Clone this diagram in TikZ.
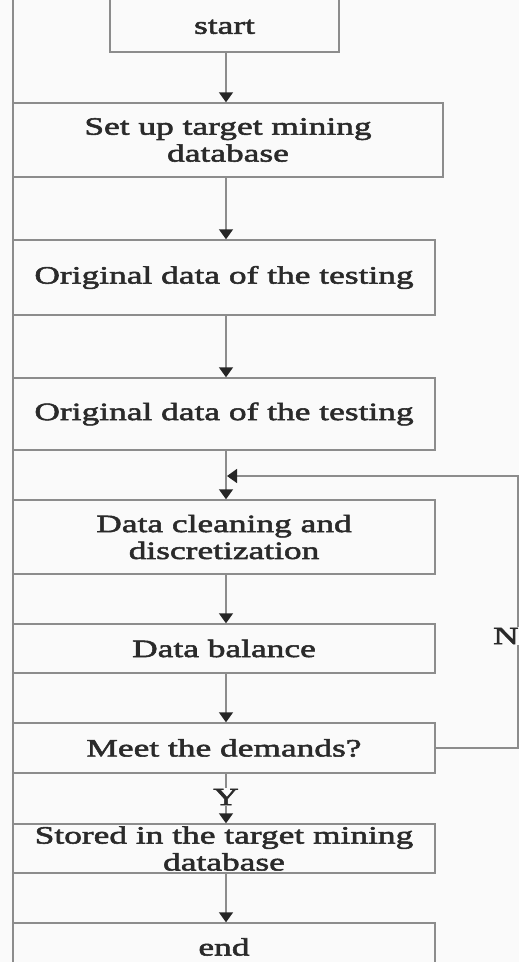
\documentclass[tikz,border=0pt]{standalone}
\usepackage{fontspec}
\setmainfont{Liberation Serif}[FakeStretch=1.42,FakeBold=2.2]
\usetikzlibrary{arrows.meta}
\definecolor{bg}{HTML}{FAFAFA}
\definecolor{ln}{HTML}{8C8C8C}
\definecolor{tx}{HTML}{2A2A2A}
\tikzset{
  box/.style={draw=ln, line width=1.4bp, inner sep=0pt, align=center, text=tx,
              font=\fontsize{25}{27}\selectfont},
  tipd/.tip={Triangle[width=14bp,length=10bp,color=black!85,fill=black!85]},
  arr/.style={draw=ln, line width=1.4bp, -tipd},
  conn/.style={draw=ln, line width=1.4bp},
  lab/.style={text=tx, inner sep=1pt, font=\fontsize{25}{27}\selectfont}
}
\begin{document}
\begin{tikzpicture}[x=1bp,y=-1bp]
\useasboundingbox (0,0) rectangle (519,962);
\fill[bg] (0,0) rectangle (519,962);
\clip (0,0) rectangle (519,962);
\draw[conn] (13,0) -- (13,962);
\coordinate (ax) at (226,0);
\node[box, minimum width=229bp, minimum height=72bp, text height=35.5bp, text depth=0pt] (start) at (224.5,16) {start};
\node[box, minimum width=430bp, minimum height=74bp] (setup) at (228,140) {Set up target mining\\database};
\node[box, minimum width=422bp, minimum height=75bp] (orig1) at (224,277.5) {Original data of the testing};
\node[box, minimum width=422bp, minimum height=72bp] (orig2) at (224,414) {Original data of the testing};
\node[box, minimum width=422bp, minimum height=74bp] (clean) at (224,537) {Data cleaning and\\discretization};
\node[box, minimum width=422bp, minimum height=49bp] (bal) at (224,648.5) {Data balance};
\node[box, minimum width=422bp, minimum height=50bp] (meet) at (224,748) {Meet the demands?};
\node[box, minimum width=422bp, minimum height=49bp] (store) at (224,848.5) {Stored in the target mining\\database};
\node[box, minimum width=422bp, minimum height=48bp] (end) at (224,947) {end};
\node[lab] (Y) at (226,797) {Y};
\coordinate (fbTop) at (518,476);
\coordinate (merge) at (227,476);
\draw[arr] (start.south -| ax) -- (setup.north -| ax);
\draw[arr] (setup.south -| ax) -- (orig1.north -| ax);
\draw[arr] (orig1.south -| ax) -- (orig2.north -| ax);
\draw[arr] (orig2.south -| ax) -- (clean.north -| ax);
\draw[arr] (clean.south -| ax) -- (bal.north -| ax);
\draw[arr] (bal.south -| ax) -- (meet.north -| ax);
\draw[conn] (meet.south -| ax) -- (Y.north);
\draw[arr] (Y.south) -- (store.north -| ax);
\draw[arr] (store.south -| ax) -- (end.north -| ax);
\draw[arr] (meet.east) -- (meet.east -| fbTop) -- (fbTop) -- (merge);
\node[lab, fill=bg] (N) at (506,636) {N};
\end{tikzpicture}
\end{document}
